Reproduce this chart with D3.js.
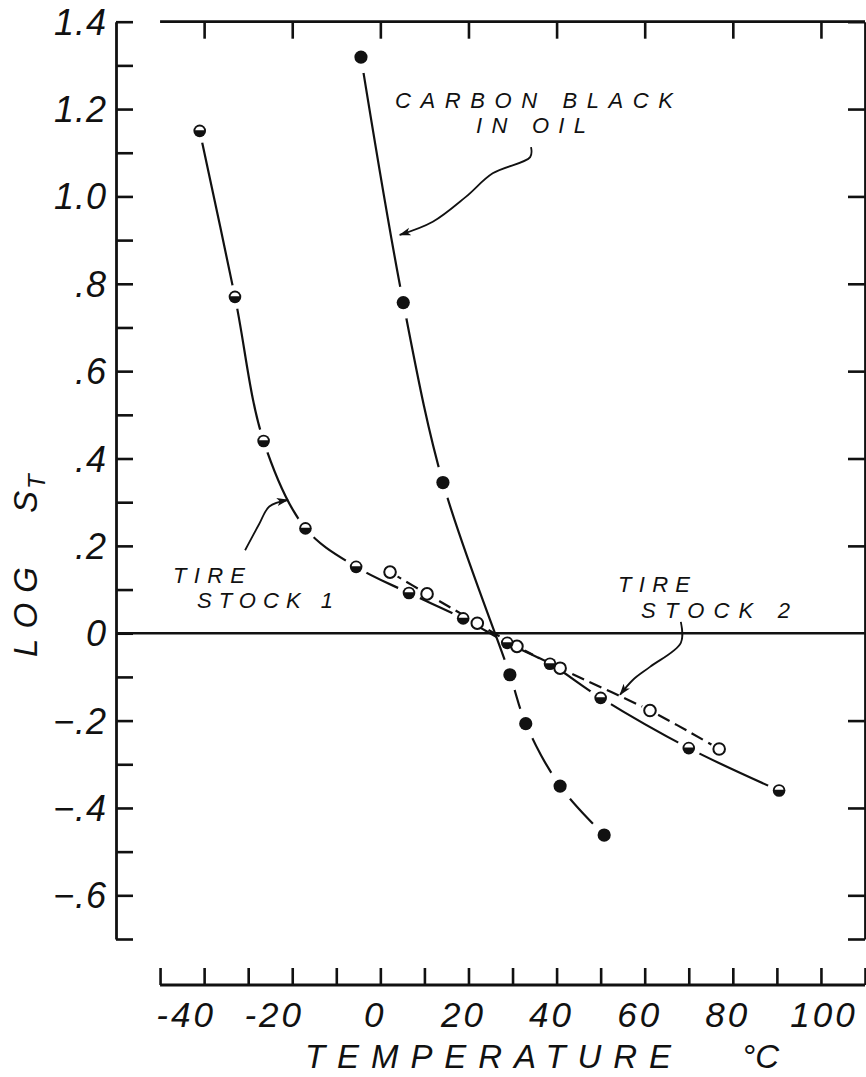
<!DOCTYPE html>
<html>
<head>
<meta charset="utf-8">
<script src="https://cdn.jsdelivr.net/npm/d3@7"></script>
<style>
  body { margin: 0; background: #fff; }
  text { font-family: "Liberation Sans", Arial, sans-serif; font-style: italic; fill: #111; }
</style>
</head>
<body>
<div id="chart"></div>
<script>
var width = 866, height = 1077;

// data: [temperature C, log S_T]
var tireStock1 = [[-41, 1.15], [-33, 0.77], [-26.5, 0.44], [-17, 0.24], [-5.5, 0.152],
  [6.5, 0.092], [18.8, 0.034], [28.8, -0.022], [38.5, -0.07], [50, -0.148],
  [70, -0.263], [90.5, -0.36]];
var tireStock2 = [[2.2, 0.14], [10.6, 0.09], [22, 0.023], [31, -0.03], [40.8, -0.08],
  [61.2, -0.177], [76.9, -0.265]];
var carbonBlack = [[-4.4, 1.319], [5.2, 0.757], [14.2, 0.345], [29.4, -0.095],
  [33.0, -0.207], [40.8, -0.35], [50.8, -0.462]];

var yTicksMinor = d3.range(-7, 15).map(function(d) { return d / 10; });
var yTicksRight = [-0.7, -0.6, -0.4, -0.2, 0.2, 0.4, 0.6, 0.8, 1.0, 1.2, 1.4];
var yLabels = [1.4, 1.2, 1.0, 0.8, 0.6, 0.4, 0.2, 0, -0.2, -0.4, -0.6];
var xTicksTop = [-40, -20, 0, 20, 40, 60, 80, 100];
var xTicksBottom = d3.range(-50, 111, 10);
var xLabels = [-40, -20, 0, 20, 40, 60, 80, 100];

// leader lines for the hand lettered labels, in data units
var carbonLeader = [[34.2, 1.113], [34.0, 1.09], [25.5, 1.053], [19.4, 0.999], [11.9, 0.942], [4.4, 0.912]];
var tire1Leader = [[-30.7, 0.19], [-27.5, 0.25], [-25.2, 0.29], [-21.0, 0.305]];
var tire2Leader = [[68.2, 0.026], [68.2, -0.022], [61.2, -0.077], [57.3, -0.107], [54.4, -0.141]];

var x = d3.scaleLinear().domain([-60, 110]).range([116, 865]);
var y = d3.scaleLinear().domain([-0.7, 1.4]).range([939, 21.7]);

var svg = d3.select('#chart').append('svg')
  .attr('width', width)
  .attr('height', height);

var defs = svg.append('defs');

defs.append('marker')
  .attr('id', 'arrow')
  .attr('markerUnits', 'userSpaceOnUse')
  .attr('markerWidth', 14).attr('markerHeight', 10)
  .attr('refX', 11).attr('refY', 4)
  .attr('orient', 'auto')
  .append('path')
  .attr('d', 'M0,0 L12,4 L0,8 L3,4 Z')
  .attr('fill', '#111');

var formatY = function(v) {
  if (v === 0) return '0';
  var s = d3.format('.1f')(v);
  if (Math.abs(v) < 1) s = s.replace('0.', '.');
  return s;
};

// --- frame ---
var axisStyle = function(g) {
  g.selectAll('line').attr('stroke', '#111').attr('stroke-width', 2.6);
  g.selectAll('path').attr('stroke', '#111').attr('stroke-width', 2.8);
};

svg.append('g')
  .attr('transform', 'translate(' + x(-60) + ',0)')
  .call(d3.axisRight(y).tickValues(yTicksMinor).tickSize(17).tickSizeOuter(0).tickFormat(''))
  .call(axisStyle);

svg.append('g')
  .attr('transform', 'translate(' + x(110) + ',0)')
  .call(d3.axisLeft(y).tickValues(yTicksRight).tickSize(17).tickSizeOuter(0).tickFormat(''))
  .call(axisStyle);

var topAxis = svg.append('g')
  .attr('transform', 'translate(0,' + y(1.4) + ')')
  .call(d3.axisBottom(x).tickValues(xTicksTop).tickSize(17).tickSizeOuter(0).tickFormat(''))
  .call(axisStyle);
topAxis.select('.domain').remove();
topAxis.append('line')
  .attr('x1', x(-50)).attr('x2', x(110))
  .attr('stroke', '#111').attr('stroke-width', 2.8);

// zero line
svg.append('line')
  .attr('x1', x(-60)).attr('x2', x(110))
  .attr('y1', y(0)).attr('y2', y(0))
  .attr('stroke', '#111').attr('stroke-width', 2.4);

// separate temperature axis
var bottomY = 985;
var bottomAxis = svg.append('g')
  .attr('transform', 'translate(0,' + bottomY + ')')
  .call(d3.axisTop(x).tickValues(xTicksBottom).tickSize(17).tickSizeOuter(0).tickFormat(''))
  .call(axisStyle);
bottomAxis.select('.domain').remove();
bottomAxis.append('line')
  .attr('x1', x(-50)).attr('x2', x(110))
  .attr('stroke', '#111').attr('stroke-width', 2.8);

// tick labels
svg.append('g').selectAll('text')
  .data(yLabels)
  .enter().append('text')
  .attr('x', 107)
  .attr('y', function(d) { return y(d) + 13; })
  .attr('text-anchor', 'end')
  .attr('font-size', 36)
  .attr('letter-spacing', 1)
  .text(formatY);

svg.append('g').selectAll('text')
  .data(xLabels)
  .enter().append('text')
  .attr('x', function(d) { return x(d); })
  .attr('dx', function(d) { return d < 0 ? -18 : (d === 100 ? 3 : -5); })
  .attr('y', 1027)
  .attr('text-anchor', 'middle')
  .attr('font-size', 35)
  .attr('letter-spacing', 3)
  .text(function(d) { return d; });

// axis titles
svg.append('text')
  .attr('x', 305).attr('y', 1068)
  .attr('font-size', 33)
  .attr('textLength', 366)
  .attr('lengthAdjust', 'spacing')
  .text('TEMPERATURE');
svg.append('text')
  .attr('x', 742).attr('y', 1068)
  .attr('font-size', 33)
  .text('°C');

var ylab = svg.append('g').attr('transform', 'translate(37,657) rotate(-90)');
ylab.append('text').attr('x', 0).attr('y', 0)
  .attr('font-size', 33)
  .attr('textLength', 90).attr('lengthAdjust', 'spacing')
  .text('LOG');
ylab.append('text').attr('x', 144).attr('y', 0)
  .attr('font-size', 33)
  .text('S');
ylab.append('text').attr('x', 168).attr('y', 8)
  .attr('font-size', 24)
  .text('T');

// --- curves ---
var line = d3.line()
  .x(function(d) { return x(d[0]); })
  .y(function(d) { return y(d[1]); })
  .curve(d3.curveCatmullRom.alpha(0.5));

var series = [
  {id: 'cb', data: carbonBlack, gap: 16, dash: null, width: 2.2},
  {id: 't1', data: tireStock1, gap: 12, dash: null, width: 2.2},
  {id: 't2', data: tireStock2, gap: 9, dash: '13,6', width: 2.2}
];

series.forEach(function(s) {
  var m = defs.append('mask')
    .attr('id', 'mask-' + s.id)
    .attr('maskUnits', 'userSpaceOnUse')
    .attr('x', 0).attr('y', 0).attr('width', width).attr('height', height);
  m.append('rect').attr('width', width).attr('height', height).attr('fill', '#fff');
  m.selectAll('circle')
    .data(s.data)
    .enter().append('circle')
    .attr('cx', function(d) { return x(d[0]); })
    .attr('cy', function(d) { return y(d[1]); })
    .attr('r', s.gap)
    .attr('fill', '#000');

  svg.append('path')
    .datum(s.data)
    .attr('d', line)
    .attr('fill', 'none')
    .attr('stroke', '#111')
    .attr('stroke-width', s.width)
    .attr('stroke-dasharray', s.dash)
    .attr('mask', 'url(#mask-' + s.id + ')');
});

// --- markers ---
var r = 6.3;

svg.append('g').selectAll('circle')
  .data(tireStock2)
  .enter().append('circle')
  .attr('cx', function(d) { return x(d[0]); })
  .attr('cy', function(d) { return y(d[1]); })
  .attr('r', r - 0.5)
  .attr('fill', '#fff')
  .attr('stroke', '#111')
  .attr('stroke-width', 2);

var half = svg.append('g').selectAll('g')
  .data(tireStock1)
  .enter().append('g')
  .attr('transform', function(d) { return 'translate(' + x(d[0]) + ',' + y(d[1]) + ')'; });
half.append('circle')
  .attr('r', r)
  .attr('fill', '#111');
var ri = r - 1.8, h = ri * 0.15, c = Math.sqrt(ri * ri - h * h);
half.append('path')
  .attr('d', 'M' + (-c) + ',' + (-h) + ' A' + ri + ',' + ri + ' 0 0 1 ' + c + ',' + (-h) + ' Z')
  .attr('fill', '#fff');

svg.append('g').selectAll('circle')
  .data(carbonBlack)
  .enter().append('circle')
  .attr('cx', function(d) { return x(d[0]); })
  .attr('cy', function(d) { return y(d[1]); })
  .attr('r', r + 0.3)
  .attr('fill', '#111');

// --- annotations ---
var leader = d3.line()
  .x(function(d) { return x(d[0]); })
  .y(function(d) { return y(d[1]); })
  .curve(d3.curveCatmullRom.alpha(0.5));

[carbonLeader, tire1Leader, tire2Leader].forEach(function(pts) {
  svg.append('path')
    .datum(pts)
    .attr('d', leader)
    .attr('fill', 'none')
    .attr('stroke', '#111')
    .attr('stroke-width', 1.8)
    .attr('marker-end', 'url(#arrow)');
});

var note = function(str, x0, yb, len) {
  svg.append('text')
    .attr('x', x0).attr('y', yb)
    .attr('font-size', 22)
    .attr('textLength', len)
    .attr('lengthAdjust', 'spacing')
    .text(str);
};
note('CARBON  BLACK', 395, 108, 278);
note('IN OIL', 476, 133, 110);
note('TIRE', 173, 583, 72);
note('STOCK  1', 197, 608, 136);
note('TIRE', 618, 592, 72);
note('STOCK  2', 641, 618, 149);
</script>
</body>
</html>
